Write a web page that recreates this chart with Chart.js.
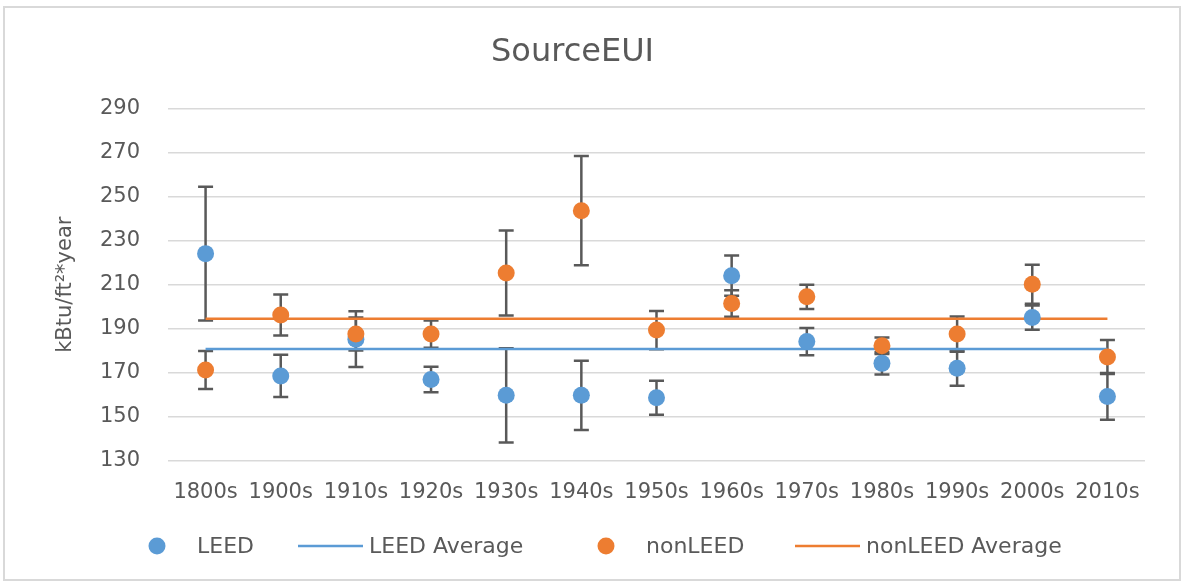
<!DOCTYPE html>
<html>
<head>
<meta charset="utf-8">
<script src="https://cdn.jsdelivr.net/npm/chart.js@4.4.1/dist/chart.umd.min.js"></script>
<style>
  html, body { margin: 0; padding: 0; background: #fff; }
  #wrap { width: 1182px; height: 582px; }
</style>
</head>
<body>
<div id="wrap"><canvas id="chart" width="1182" height="582"></canvas></div>
<script>
const decades = ['1800s', '1900s', '1910s', '1920s', '1930s', '1940s', '1950s', '1960s', '1970s', '1980s', '1990s', '2000s', '2010s'];

const leed = [224.1, 168.6, 185.3, 167.0, 159.8, 159.8, 158.7, 214.1, 184.2, 174.3, 172.1, 195.1, 159.3];
const leedErr = [30.4, 9.6, 12.6, 5.8, 21.4, 15.7, 7.7, 9.1, 6.2, 5.0, 8.0, 5.5, 10.6];

const nonLeed = [171.3, 196.3, 187.6, 187.6, 215.3, 243.6, 189.4, 201.5, 204.5, 182.3, 187.6, 210.2, 177.2];
const nonLeedErr = [8.6, 9.3, 7.5, 6.2, 19.3, 24.8, 8.7, 6.0, 5.5, 3.7, 8.0, 8.9, 7.7];

const leedAverage = [180.8, 180.8, 180.8, 180.8, 180.8, 180.8, 180.8, 180.8, 180.8, 180.8, 180.8, 180.8, 180.8];
const nonLeedAverage = [194.6, 194.6, 194.6, 194.6, 194.6, 194.6, 194.6, 194.6, 194.6, 194.6, 194.6, 194.6, 194.6];

const yTicks = [130, 150, 170, 190, 210, 230, 250, 270, 290];

const BLUE = '#5b9bd5';
const ORANGE = '#ed7d31';
const GREY = '#595959';
const FONT = 'DejaVu Sans';

// white background + thin frame like the Excel chart area
const frame = {
    id: 'frame',
    beforeDraw(chart) {
        const ctx = chart.ctx;
        ctx.save();
        ctx.fillStyle = '#fff';
        ctx.fillRect(0, 0, chart.width, chart.height);
        ctx.strokeStyle = '#d9d9d9';
        ctx.lineWidth = 2;
        ctx.strokeRect(4, 7, 1176, 573);
        ctx.restore();
    }
};

// error bars drawn under the markers
const errorBars = {
    id: 'errorBars',
    beforeDatasetsDraw(chart) {
        const ctx = chart.ctx;
        const yScale = chart.scales.y;
        ctx.save();
        ctx.strokeStyle = GREY;
        ctx.lineWidth = 2.5;
        chart.data.datasets.forEach((ds, i) => {
            if (!ds.errors) return;
            const meta = chart.getDatasetMeta(i);
            meta.data.forEach((pt, j) => {
                const v = ds.data[j];
                const e = ds.errors[j];
                const top = yScale.getPixelForValue(v + e);
                const bot = yScale.getPixelForValue(v - e);
                ctx.beginPath();
                ctx.moveTo(pt.x, top);
                ctx.lineTo(pt.x, bot);
                ctx.moveTo(pt.x - 7.5, top);
                ctx.lineTo(pt.x + 7.5, top);
                ctx.moveTo(pt.x - 7.5, bot);
                ctx.lineTo(pt.x + 7.5, bot);
                ctx.stroke();
            });
        });
        ctx.restore();
    }
};

// legend row along the bottom, Excel style
const legendRow = {
    id: 'legendRow',
    afterDraw(chart) {
        const ctx = chart.ctx;
        const y = 546;
        const items = [
            {ds: 0, kind: 'dot', mark: 157, text: 197},
            {ds: 1, kind: 'line', mark: 298, end: 363, text: 369},
            {ds: 2, kind: 'dot', mark: 606, text: 646},
            {ds: 3, kind: 'line', mark: 795, end: 860, text: 866}
        ];
        ctx.save();
        ctx.font = '22px "' + FONT + '"';
        ctx.textBaseline = 'middle';
        items.forEach(it => {
            const ds = chart.data.datasets[it.ds];
            if (it.kind === 'dot') {
                ctx.fillStyle = ds.backgroundColor;
                ctx.beginPath();
                ctx.arc(it.mark, y, 8.5, 0, Math.PI * 2);
                ctx.fill();
            } else {
                ctx.strokeStyle = ds.borderColor;
                ctx.lineWidth = 2.5;
                ctx.beginPath();
                ctx.moveTo(it.mark, y);
                ctx.lineTo(it.end, y);
                ctx.stroke();
            }
            ctx.fillStyle = GREY;
            ctx.fillText(ds.label, it.text, y + 1);
        });
        ctx.restore();
    }
};

new Chart(document.getElementById('chart').getContext('2d'), {
    type: 'line',
    data: {
        labels: decades,
        datasets: [
            {
                label: 'LEED',
                data: leed,
                errors: leedErr,
                showLine: false,
                pointRadius: 8.5,
                pointBorderWidth: 0,
                backgroundColor: BLUE,
                borderColor: BLUE,
                order: 1
            },
            {
                label: 'LEED Average',
                data: leedAverage,
                borderColor: BLUE,
                backgroundColor: BLUE,
                borderWidth: 2.5,
                pointRadius: 0,
                order: 3
            },
            {
                label: 'nonLEED',
                data: nonLeed,
                errors: nonLeedErr,
                showLine: false,
                pointRadius: 8.5,
                pointBorderWidth: 0,
                backgroundColor: ORANGE,
                borderColor: ORANGE,
                order: 0
            },
            {
                label: 'nonLEED Average',
                data: nonLeedAverage,
                borderColor: ORANGE,
                backgroundColor: ORANGE,
                borderWidth: 2.5,
                pointRadius: 0,
                order: 2
            }
        ]
    },
    options: {
        responsive: false,
        animation: false,
        devicePixelRatio: 1,
        layout: { padding: { left: 0, right: 37, top: 0, bottom: 0 } },
        plugins: {
            legend: { display: false },
            tooltip: { enabled: false },
            title: {
                display: true,
                text: 'SourceEUI',
                color: GREY,
                font: { family: FONT, size: 32, weight: 'normal' },
                padding: { top: 33, bottom: 37 }
            }
        },
        scales: {
            x: {
                offset: true,
                grid: { display: false, drawTicks: false },
                border: { display: false },
                ticks: {
                    color: GREY,
                    padding: 19,
                    maxRotation: 0,
                    autoSkip: false,
                    font: { family: FONT, size: 21 }
                },
                afterFit(scale) { scale.height = 121; }
            },
            y: {
                min: 130,
                max: 290,
                afterBuildTicks(scale) { scale.ticks = yTicks.map(v => ({ value: v })); },
                grid: { color: '#d9d9d9', lineWidth: 1.5, drawTicks: false },
                border: { display: false },
                ticks: {
                    color: GREY,
                    padding: 28,
                    font: { family: FONT, size: 21 }
                },
                title: {
                    display: true,
                    text: 'kBtu/ft²*year',
                    color: GREY,
                    font: { family: FONT, size: 21 },
                    padding: { top: 53 }
                },
                afterFit(scale) { scale.width = 168; }
            }
        }
    },
    plugins: [frame, errorBars, legendRow]
});
</script>
</body>
</html>
